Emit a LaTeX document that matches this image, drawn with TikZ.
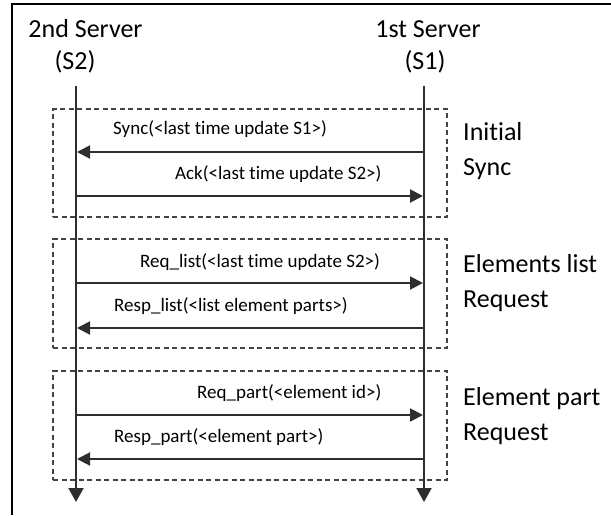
\documentclass[tikz,border=0pt]{standalone}
\usepackage{fontspec}
\setmainfont{Carlito}[Ligatures={NoCommon}]
\usetikzlibrary{arrows.meta}
\definecolor{lifegray}{HTML}{2E2E2E}
\definecolor{boxgray}{HTML}{444444}
\tikzset{
  hdr/.style={font=\fontsize{26}{35}\selectfont, inner sep=0pt, align=left},
  msglabel/.style={font=\fontsize{19}{23}\selectfont, inner sep=0pt, anchor=west},
  lifeline/.style={draw=lifegray, line width=2pt, -{Triangle[length=14pt,width=15pt]}},
  msg/.style={draw=lifegray, line width=2pt, -{Triangle[length=13pt,width=13pt]}},
  phasebox/.style={draw=boxgray, line width=1.6pt, dash pattern=on 5pt off 3.5pt},
}
\begin{document}
\begin{tikzpicture}[x=1pt,y=-1pt]
\useasboundingbox (0,0) rectangle (611,515);
% frame (cropped screenshot: left and top only)
\draw[line width=1.5pt] (12,515) -- (12,4) -- (611,4);
% headers
\node[hdr] (s2name) at (85.5,29) {2nd Server};
\node[hdr] (s2id) at (75,62) {(S2)};
\node[hdr] (s1name) at (428,29) {1st Server};
\node[hdr] (s1id) at (425,62) {(S1)};
% phase boxes
\node[phasebox, minimum width=394pt, minimum height=108pt, inner sep=0pt] (box1) at (250,163) {};
\node[phasebox, minimum width=394pt, minimum height=109pt, inner sep=0pt] (box2) at (250,293.5) {};
\node[phasebox, minimum width=394pt, minimum height=109pt, inner sep=0pt] (box3) at (250,425.5) {};
% lifelines
\coordinate (s2top) at (76,86);
\coordinate (s2bot) at (76,502);
\coordinate (s1top) at (424,86);
\coordinate (s1bot) at (424,502);
\draw[lifeline] (s2top) -- (s2bot);
\draw[lifeline] (s1top) -- (s1bot);
% message points
\coordinate (a1) at (424,152); \coordinate (b1) at (77,152);
\coordinate (a2) at (76,196);  \coordinate (b2) at (423,196);
\coordinate (a3) at (76,283);  \coordinate (b3) at (423,283);
\coordinate (a4) at (424,328); \coordinate (b4) at (77,328);
\coordinate (a5) at (76,415);  \coordinate (b5) at (423,415);
\coordinate (a6) at (424,459); \coordinate (b6) at (77,459);
\draw[msg] (a1) -- (b1);
\draw[msg] (a2) -- (b2);
\draw[msg] (a3) -- (b3);
\draw[msg] (a4) -- (b4);
\draw[msg] (a5) -- (b5);
\draw[msg] (a6) -- (b6);
% message labels
\node[msglabel] (m1) at (113,129) {Sync(<last time update S1>)};
\node[msglabel] (m2) at (175,174) {Ack(<last time update S2>)};
\node[msglabel] (m3) at (140,262) {Req\_list(<last time update S2>)};
\node[msglabel] (m4) at (114,306) {Resp\_list(<list element parts>)};
\node[msglabel] (m5) at (197,393) {Req\_part(<element id>)};
\node[msglabel] (m6) at (114,437) {Resp\_part(<element part>)};
% phase labels
\node[hdr, anchor=west] (p1) at (463,151) {Initial\\Sync};
\node[hdr, anchor=west] (p2) at (463,283) {Elements list\\Request};
\node[hdr, anchor=west] (p3) at (463,416) {Element part\\Request};
\end{tikzpicture}
\end{document}
